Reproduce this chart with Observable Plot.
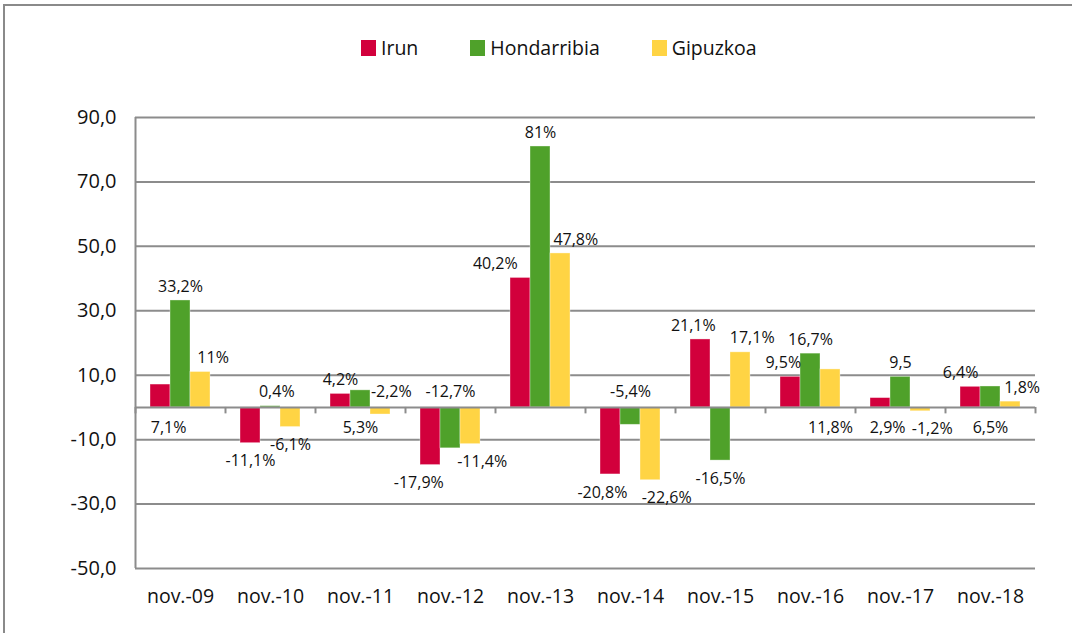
<!DOCTYPE html>
<html><head><meta charset="utf-8">
<script src="https://cdn.jsdelivr.net/npm/d3@7"></script>
<script src="https://cdn.jsdelivr.net/npm/@observablehq/plot@0.6"></script>
<style>
body{margin:0;background:#fff;font-family:"Open Sans",sans-serif;width:1072px;height:633px;overflow:hidden;position:relative;}
#frame{position:absolute;left:3px;top:4px;width:1069px;height:629px;border-left:2px solid #8a8a8a;border-top:2px solid #8a8a8a;box-sizing:border-box;}
#legend{position:absolute;top:37px;left:361px;display:flex;justify-content:flex-start;align-items:center;gap:52px;font-size:19.5px;color:#111;line-height:22px;}
#legend .item{display:flex;align-items:center;gap:5px;}
#legend .sw{width:15px;height:16px;display:inline-block;}
#chart{position:absolute;left:0;top:80px;}
</style>
</head><body>
<div id="frame"></div>
<div id="legend"></div>
<div id="chart"></div>
<script>
const categories = ["nov.-09","nov.-10","nov.-11","nov.-12","nov.-13","nov.-14","nov.-15","nov.-16","nov.-17","nov.-18"];
const series = ["Irun","Hondarribia","Gipuzkoa"];
const irun        = [7.1, -11.1, 4.2, -17.9, 40.2, -20.8, 21.1, 9.5, 2.9, 6.4];
const hondarribia = [33.2, 0.4, 5.3, -12.7, 81, -5.4, -16.5, 16.7, 9.5, 6.5];
const gipuzkoa    = [11, -6.1, -2.2, -11.4, 47.8, -22.6, 17.1, 11.8, -1.2, 1.8];
const irunLabels        = ["7,1%","-11,1%","4,2%","-17,9%","40,2%","-20,8%","21,1%","9,5%","2,9%","6,4%"];
const hondarribiaLabels = ["33,2%","0,4%","5,3%","-12,7%","81%","-5,4%","-16,5%","16,7%","9,5","6,5%"];
const gipuzkoaLabels    = ["11%","-6,1%","-2,2%","-11,4%","47,8%","-22,6%","17,1%","11,8%","-1,2%","1,8%"];
const yTicks = [-50, -30, -10, 10, 30, 50, 70, 90];
const colors = ["#D2003C", "#4FA12A", "#FFD444"];

const values = [irun, hondarribia, gipuzkoa];
const labels = [irunLabels, hondarribiaLabels, gipuzkoaLabels];

// label placement quirks of the original (style only)
const flipped = new Set(["Irun|0","Hondarribia|2","Gipuzkoa|2","Hondarribia|3","Hondarribia|5","Gipuzkoa|7","Irun|8","Hondarribia|9"]);
const nudge = {
  "Irun|0": 0.09, "Gipuzkoa|0": 0.14, "Hondarribia|1": 0.07, "Gipuzkoa|2": 0.12,
  "Irun|3": -0.13, "Gipuzkoa|3": 0.13, "Irun|4": -0.28, "Gipuzkoa|4": 0.17,
  "Irun|5": -0.09, "Gipuzkoa|5": 0.18, "Irun|6": -0.08, "Gipuzkoa|6": 0.13,
  "Irun|7": -0.08, "Irun|8": 0.08, "Gipuzkoa|8": 0.13, "Irun|9": -0.11, "Gipuzkoa|9": 0.13
};

const rows = [];
series.forEach((s, si) => categories.forEach((c, i) => {
  const key = s + "|" + i;
  const v = values[si][i];
  const flip = flipped.has(key);
  const above = flip ? v < 0 : v >= 0;
  rows.push({
    series: s, i, cat: c, value: v, label: labels[si][i],
    x1: i - 1/3 + si * 2/9, x2: i - 1/3 + (si + 1) * 2/9,
    lx: i - 1/3 + (si + 0.5) * 2/9 + (nudge[key] || 0),
    ly: flip ? 0 : v, above, flip
  });
}));

// legend
const leg = document.getElementById("legend");
series.forEach((s, si) => {
  const it = document.createElement("div"); it.className = "item";
  it.innerHTML = `<span class="sw" style="background:${colors[si]}"></span><span>${s}</span>`;
  leg.appendChild(it);
});

const fmt = d => (d < 0 ? "-" : "") + Math.abs(d).toFixed(1).replace(".", ",");
const boundaries = categories.map((c, i) => i - 0.5).concat([categories.length - 0.5]);
const grid = "#8c8c8c";

const txt = (filterFn, dy) => Plot.text(rows.filter(filterFn), {
  x: "lx", y: "ly", text: "label", dy, fontSize: 16, fill: "#111", textAnchor: "middle"
});

const chart = Plot.plot({
  width: 1072, height: 553,
  marginLeft: 135, marginRight: 37, marginTop: 37, marginBottom: 65,
  style: {fontFamily: "Open Sans, sans-serif", background: "transparent"},
  x: {domain: [-0.5, categories.length - 0.5], axis: null},
  y: {domain: [-50, 90], axis: null},
  color: {domain: series, range: colors},
  marks: [
    Plot.ruleY(yTicks, {stroke: grid, strokeWidth: 2}),
    Plot.rectY(rows, {x1: "x1", x2: "x2", y1: 0, y2: "value", fill: "series", stroke: "#fff", strokeOpacity: 0.45, strokeWidth: 0.8}),
    Plot.ruleY([0], {stroke: grid, strokeWidth: 2}),
    Plot.ruleX(boundaries, {x: d => d, y1: 0, y2: -2, stroke: grid, strokeWidth: 2}),
    Plot.ruleX([-0.5], {y1: -50, y2: 90, stroke: grid, strokeWidth: 2}),
    txt(d => d.above && !d.flip, -14),
    txt(d => !d.above && !d.flip, 18),
    txt(d => d.above && d.flip, -16),
    txt(d => !d.above && d.flip, 20),
    Plot.axisY(yTicks, {tickSize: 0, tickPadding: 19, tickFormat: fmt, fontSize: 20, fill: "#111"}),
    Plot.axisX(d3.range(categories.length), {tickSize: 0, tickPadding: 21, tickFormat: i => categories[i], fontSize: 19.5, fill: "#111"})
  ]
});
document.getElementById("chart").appendChild(chart);
</script>
</body></html>
